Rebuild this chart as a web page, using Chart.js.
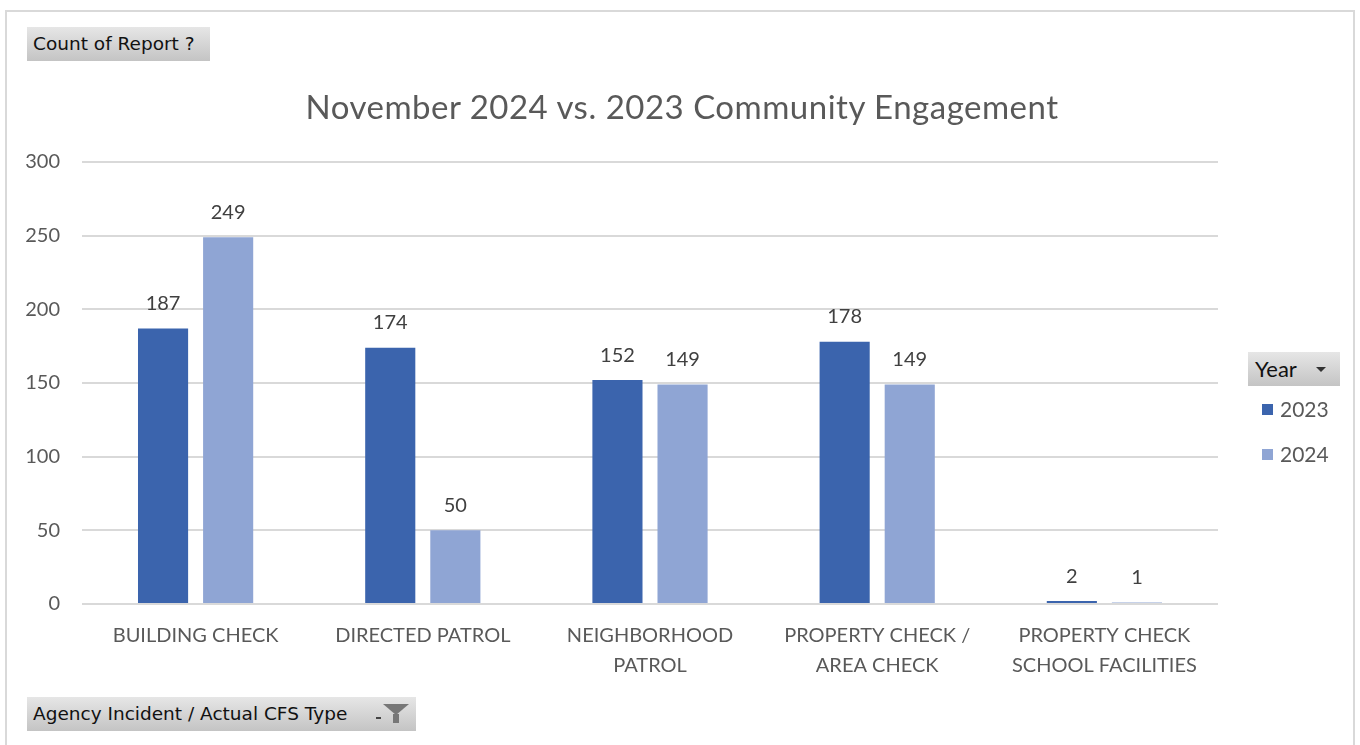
<!DOCTYPE html>
<html>
<head>
<meta charset="utf-8">
<script src="https://cdn.jsdelivr.net/npm/chart.js@4.4.1/dist/chart.umd.min.js"></script>
<style>
  html, body { margin: 0; padding: 0; background: #fff; }
  body { width: 1360px; height: 745px; position: relative; overflow: hidden; font-family: 'Lato', sans-serif; }
  #frame { position: absolute; left: 5px; top: 10px; width: 1350px; height: 760px; border: 2px solid #d9d9d9; box-sizing: border-box; }
  canvas { position: absolute; left: 0; top: 0; }
  #title { position: absolute; left: 0; top: 86px; width: 1364px; text-align: center; font-size: 33px; line-height: 40px; color: #595959; letter-spacing: 0.5px; }
  .btn {
    position: absolute; box-sizing: border-box; height: 34px;
    background: linear-gradient(#e6e6e6, #c4c4c4);
    font-family: 'DejaVu Sans', sans-serif; font-size: 18.5px; color: #111;
    line-height: 34px; padding-left: 6px; white-space: nowrap;
  }
  #btnCount { left: 27px; top: 27px; width: 183px; }
  #btnType { left: 27px; top: 697px; width: 389px; }
  #btnYear { left: 1248px; top: 352px; width: 92px; font-family: 'Lato', sans-serif; font-size: 22px; padding-left: 7px; }
  .arrow { position: absolute; width: 0; height: 0; border-left: 5px solid transparent; border-right: 5px solid transparent; border-top: 5px solid #333; }
  #btnYear .arrow { left: 68px; top: 15px; }
  #btnType .tiny { position: absolute; left: 349px; top: 20px; width: 5px; height: 2px; background: #444; }
  #btnType .funnel { position: absolute; left: 356px; top: 7px; width: 0; height: 0; border-left: 13px solid transparent; border-right: 13px solid transparent; border-top: 11px solid #777; }
  #btnType .stem { position: absolute; left: 366px; top: 17px; width: 6px; height: 9px; background: #777; }
  #legend { position: absolute; left: 1262px; top: 394px; font-size: 21px; color: #595959; }
  .item { height: 45px; position: relative; }
  .sw { position: absolute; left: 0; top: 10px; width: 11px; height: 11px; }
  .lbl { position: absolute; left: 18px; top: 2px; line-height: 26px; }
</style>
</head>
<body>
<div id="frame"></div>
<canvas id="chart" width="1360" height="745"></canvas>
<div id="title">November 2024 vs. 2023 Community Engagement</div>
<div class="btn" id="btnCount">Count of Report ?</div>
<div class="btn" id="btnType">Agency Incident / Actual CFS Type<span class="tiny"></span><span class="funnel"></span><span class="stem"></span></div>
<div class="btn" id="btnYear">Year<span class="arrow"></span></div>
<div id="legend"></div>
<script>
// categories and values
const categories = [
  ['BUILDING CHECK'],
  ['DIRECTED PATROL'],
  ['NEIGHBORHOOD', 'PATROL'],
  ['PROPERTY CHECK /', 'AREA CHECK'],
  ['PROPERTY CHECK', 'SCHOOL FACILITIES'],
];
const years = ['2023', '2024'];
const values2023 = [187, 174, 152, 178, 2];
const values2024 = [249, 50, 149, 149, 1];
const yTicks = [0, 50, 100, 150, 200, 250, 300];
const colors = ['#3b64ad', '#8fa5d4'];

// draws the number above each bar
const barValues = {
  id: 'barValues',
  afterDatasetsDraw(chart) {
    const ctx = chart.ctx;
    ctx.save();
    ctx.font = '20px Lato';
    ctx.fillStyle = '#404040';
    ctx.textAlign = 'center';
    ctx.textBaseline = 'middle';
    chart.data.datasets.forEach((ds, i) => {
      chart.getDatasetMeta(i).data.forEach((bar, j) => {
        ctx.fillText(ds.data[j], bar.x, bar.y - 25);
      });
    });
    ctx.restore();
  }
};

const chart = new Chart(document.getElementById('chart'), {
  type: 'bar',
  data: {
    labels: categories,
    datasets: [
      { label: years[0], data: values2023, backgroundColor: colors[0] },
      { label: years[1], data: values2024, backgroundColor: colors[1] },
    ],
  },
  options: {
    responsive: false,
    maintainAspectRatio: false,
    animation: false,
    datasets: { bar: { categoryPercentage: 0.573, barPercentage: 0.77 } },
    layout: { padding: { top: 162, right: 142, bottom: 0, left: 0 } },
    scales: {
      x: {
        grid: { display: false },
        border: { display: false },
        ticks: {
          color: '#595959',
          font: { family: 'Lato', size: 20, lineHeight: 1.5 },
          padding: 9,
          maxRotation: 0,
          autoSkip: false,
        },
        afterFit(scale) { scale.height = 141; },
      },
      y: {
        min: 0,
        max: 300,
        afterBuildTicks(scale) { scale.ticks = yTicks.map(v => ({ value: v })); },
        grid: { color: '#d9d9d9', lineWidth: 2, drawTicks: false },
        border: { display: false },
        ticks: {
          color: '#595959',
          font: { family: 'Lato', size: 20 },
          padding: 22,
        },
        afterFit(scale) { scale.width = 82; },
      },
    },
    plugins: {
      legend: { display: false },
      tooltip: { enabled: false },
      title: { display: false },
    },
  },
  plugins: [barValues],
});

// legend built from the chart datasets
const legend = document.getElementById('legend');
chart.data.datasets.forEach(ds => {
  const item = document.createElement('div');
  item.className = 'item';
  item.innerHTML = '<span class="sw" style="background:' + ds.backgroundColor + '"></span><span class="lbl">' + ds.label + '</span>';
  legend.appendChild(item);
});
</script>
</body>
</html>
